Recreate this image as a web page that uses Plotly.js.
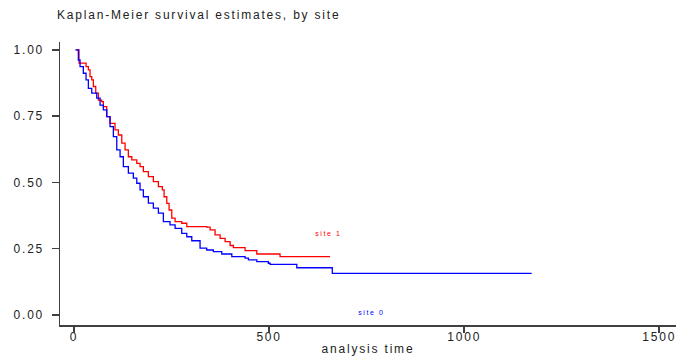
<!DOCTYPE html>
<html>
<head>
<meta charset="utf-8">
<script src="https://cdn.plot.ly/plotly-3.0.1.min.js"></script>
<style>
html, body { margin: 0; padding: 0; background: #fff; }
#chart svg text { letter-spacing: 1.8px; }
#chart .annotation text { letter-spacing: 1.6px; font-weight: bold; }
</style>
</head>
<body>
<div id="chart" style="width:676px;height:356px;"></div>
<script>
// Kaplan-Meier step estimates (time of drop, survival after drop)
const site1Time = [4, 12.8, 30.8, 36.7, 41, 45.4, 49.5, 55.6, 62.3, 71, 75.1, 83.8, 92.3, 105, 113.6, 122.3, 130.8, 139.2, 148, 160.8, 169.2, 177.7, 190.5, 203.3, 216.2, 226.4, 230.8, 237.7, 243.6, 250.5, 259, 276, 289, 340, 348.7, 361.5, 374.4, 387.2, 400, 408.5, 438.5, 468.5, 528, 656];
const site1Surv = [1.0, 0.950, 0.937, 0.925, 0.899, 0.887, 0.862, 0.837, 0.811, 0.805, 0.786, 0.748, 0.723, 0.698, 0.679, 0.648, 0.623, 0.597, 0.585, 0.572, 0.560, 0.541, 0.522, 0.503, 0.484, 0.472, 0.446, 0.421, 0.396, 0.365, 0.352, 0.346, 0.333, 0.331, 0.321, 0.302, 0.289, 0.277, 0.262, 0.254, 0.243, 0.230, 0.220, 0.220];

const site0Time = [4, 11, 15.4, 23.8, 30.8, 36.7, 45.4, 58.2, 66.7, 75.1, 83.8, 92.3, 100.8, 109.5, 118, 126.4, 139.2, 152, 160.8, 169.2, 177.7, 190.5, 203.3, 216.2, 229, 246, 259, 276, 289, 301.8, 323, 340, 357, 378.7, 404.4, 438.5, 447, 468.5, 498, 502.6, 571, 662, 1173];
const site0Surv = [1.0, 0.962, 0.937, 0.912, 0.887, 0.855, 0.837, 0.818, 0.792, 0.774, 0.748, 0.711, 0.673, 0.623, 0.597, 0.560, 0.535, 0.516, 0.497, 0.472, 0.446, 0.422, 0.403, 0.384, 0.352, 0.340, 0.327, 0.308, 0.295, 0.280, 0.252, 0.245, 0.239, 0.230, 0.220, 0.214, 0.208, 0.201, 0.195, 0.191, 0.178, 0.157, 0.157];

const yTicks = [0, 0.25, 0.5, 0.75, 1.0];
const yTickLabels = ["0.00", "0.25", "0.50", "0.75", "1.00"];
const xTicks = [0, 500, 1000, 1500];
const xTickLabels = ["0", "500", "1000", "1500"];

const seriesLabels = ["site 1", "site 0"];
const labelX = [652, 762];
const labelY = [0.309, 0.011];
const colors = ["#ff0000", "#0000ff"];

const axisColor = "#404040";
const textColor = "#222222";
const fontFam = "Liberation Sans, Arial, sans-serif";
const xRange = [-36, 1543];

const traces = [
  {x: site1Time, y: site1Surv, mode: "lines", line: {shape: "hv", color: colors[0], width: 1.3}, name: seriesLabels[0], hoverinfo: "skip"},
  {x: site0Time, y: site0Surv, mode: "lines", line: {shape: "hv", color: colors[1], width: 1.3}, name: seriesLabels[1], hoverinfo: "skip"}
];

const layout = {
  width: 676, height: 356,
  margin: {l: 60, r: 0, t: 42, b: 31, pad: 0},
  paper_bgcolor: "#ffffff", plot_bgcolor: "#ffffff",
  showlegend: false,
  font: {family: fontFam, size: 12, color: textColor},
  title: {
    text: "Kaplan-Meier survival estimates, by site",
    font: {family: fontFam, size: 12, color: textColor},
    xref: "container", yref: "container",
    x: 57 / 676, xanchor: "left",
    y: 1 - 15 / 356, yanchor: "middle"
  },
  xaxis: {
    range: xRange,
    tickvals: xTicks, ticktext: xTickLabels,
    showgrid: false, zeroline: false,
    showline: true, linecolor: axisColor, linewidth: 1.5,
    ticks: "",
    tickfont: {family: fontFam, size: 12, color: textColor},
    title: {text: "analysis time", font: {family: fontFam, size: 12, color: textColor}, standoff: 8}
  },
  xaxis2: {
    range: xRange, overlaying: "x", anchor: "y", side: "bottom",
    tickvals: xTicks, showticklabels: false,
    showgrid: false, zeroline: false, showline: false,
    ticks: "outside", ticklen: 7, tickwidth: 1.5, tickcolor: axisColor
  },
  yaxis: {
    range: [-0.038, 1.030],
    tickvals: yTicks, ticktext: yTickLabels,
    showgrid: false, zeroline: false,
    showline: true, linecolor: axisColor, linewidth: 1.5,
    ticks: "outside", ticklen: 7, tickwidth: 1.5, tickcolor: axisColor,
    ticklabelstandoff: 5,
    tickfont: {family: fontFam, size: 12, color: textColor}
  },
  annotations: seriesLabels.map((t, i) => ({
    x: labelX[i], y: labelY[i], xref: "x", yref: "y",
    text: t, showarrow: false,
    font: {family: fontFam, size: 7, color: colors[i]},
    xanchor: "center", yanchor: "middle"
  }))
};

// invisible carrier trace so xaxis2 is drawn with its ticks
traces.push({x: [xRange[0]], y: [0], xaxis: "x2", yaxis: "y", mode: "markers", marker: {opacity: 0}, hoverinfo: "skip", showlegend: false});

Plotly.newPlot("chart", traces, layout, {staticPlot: true, displayModeBar: false});
</script>
</body>
</html>
